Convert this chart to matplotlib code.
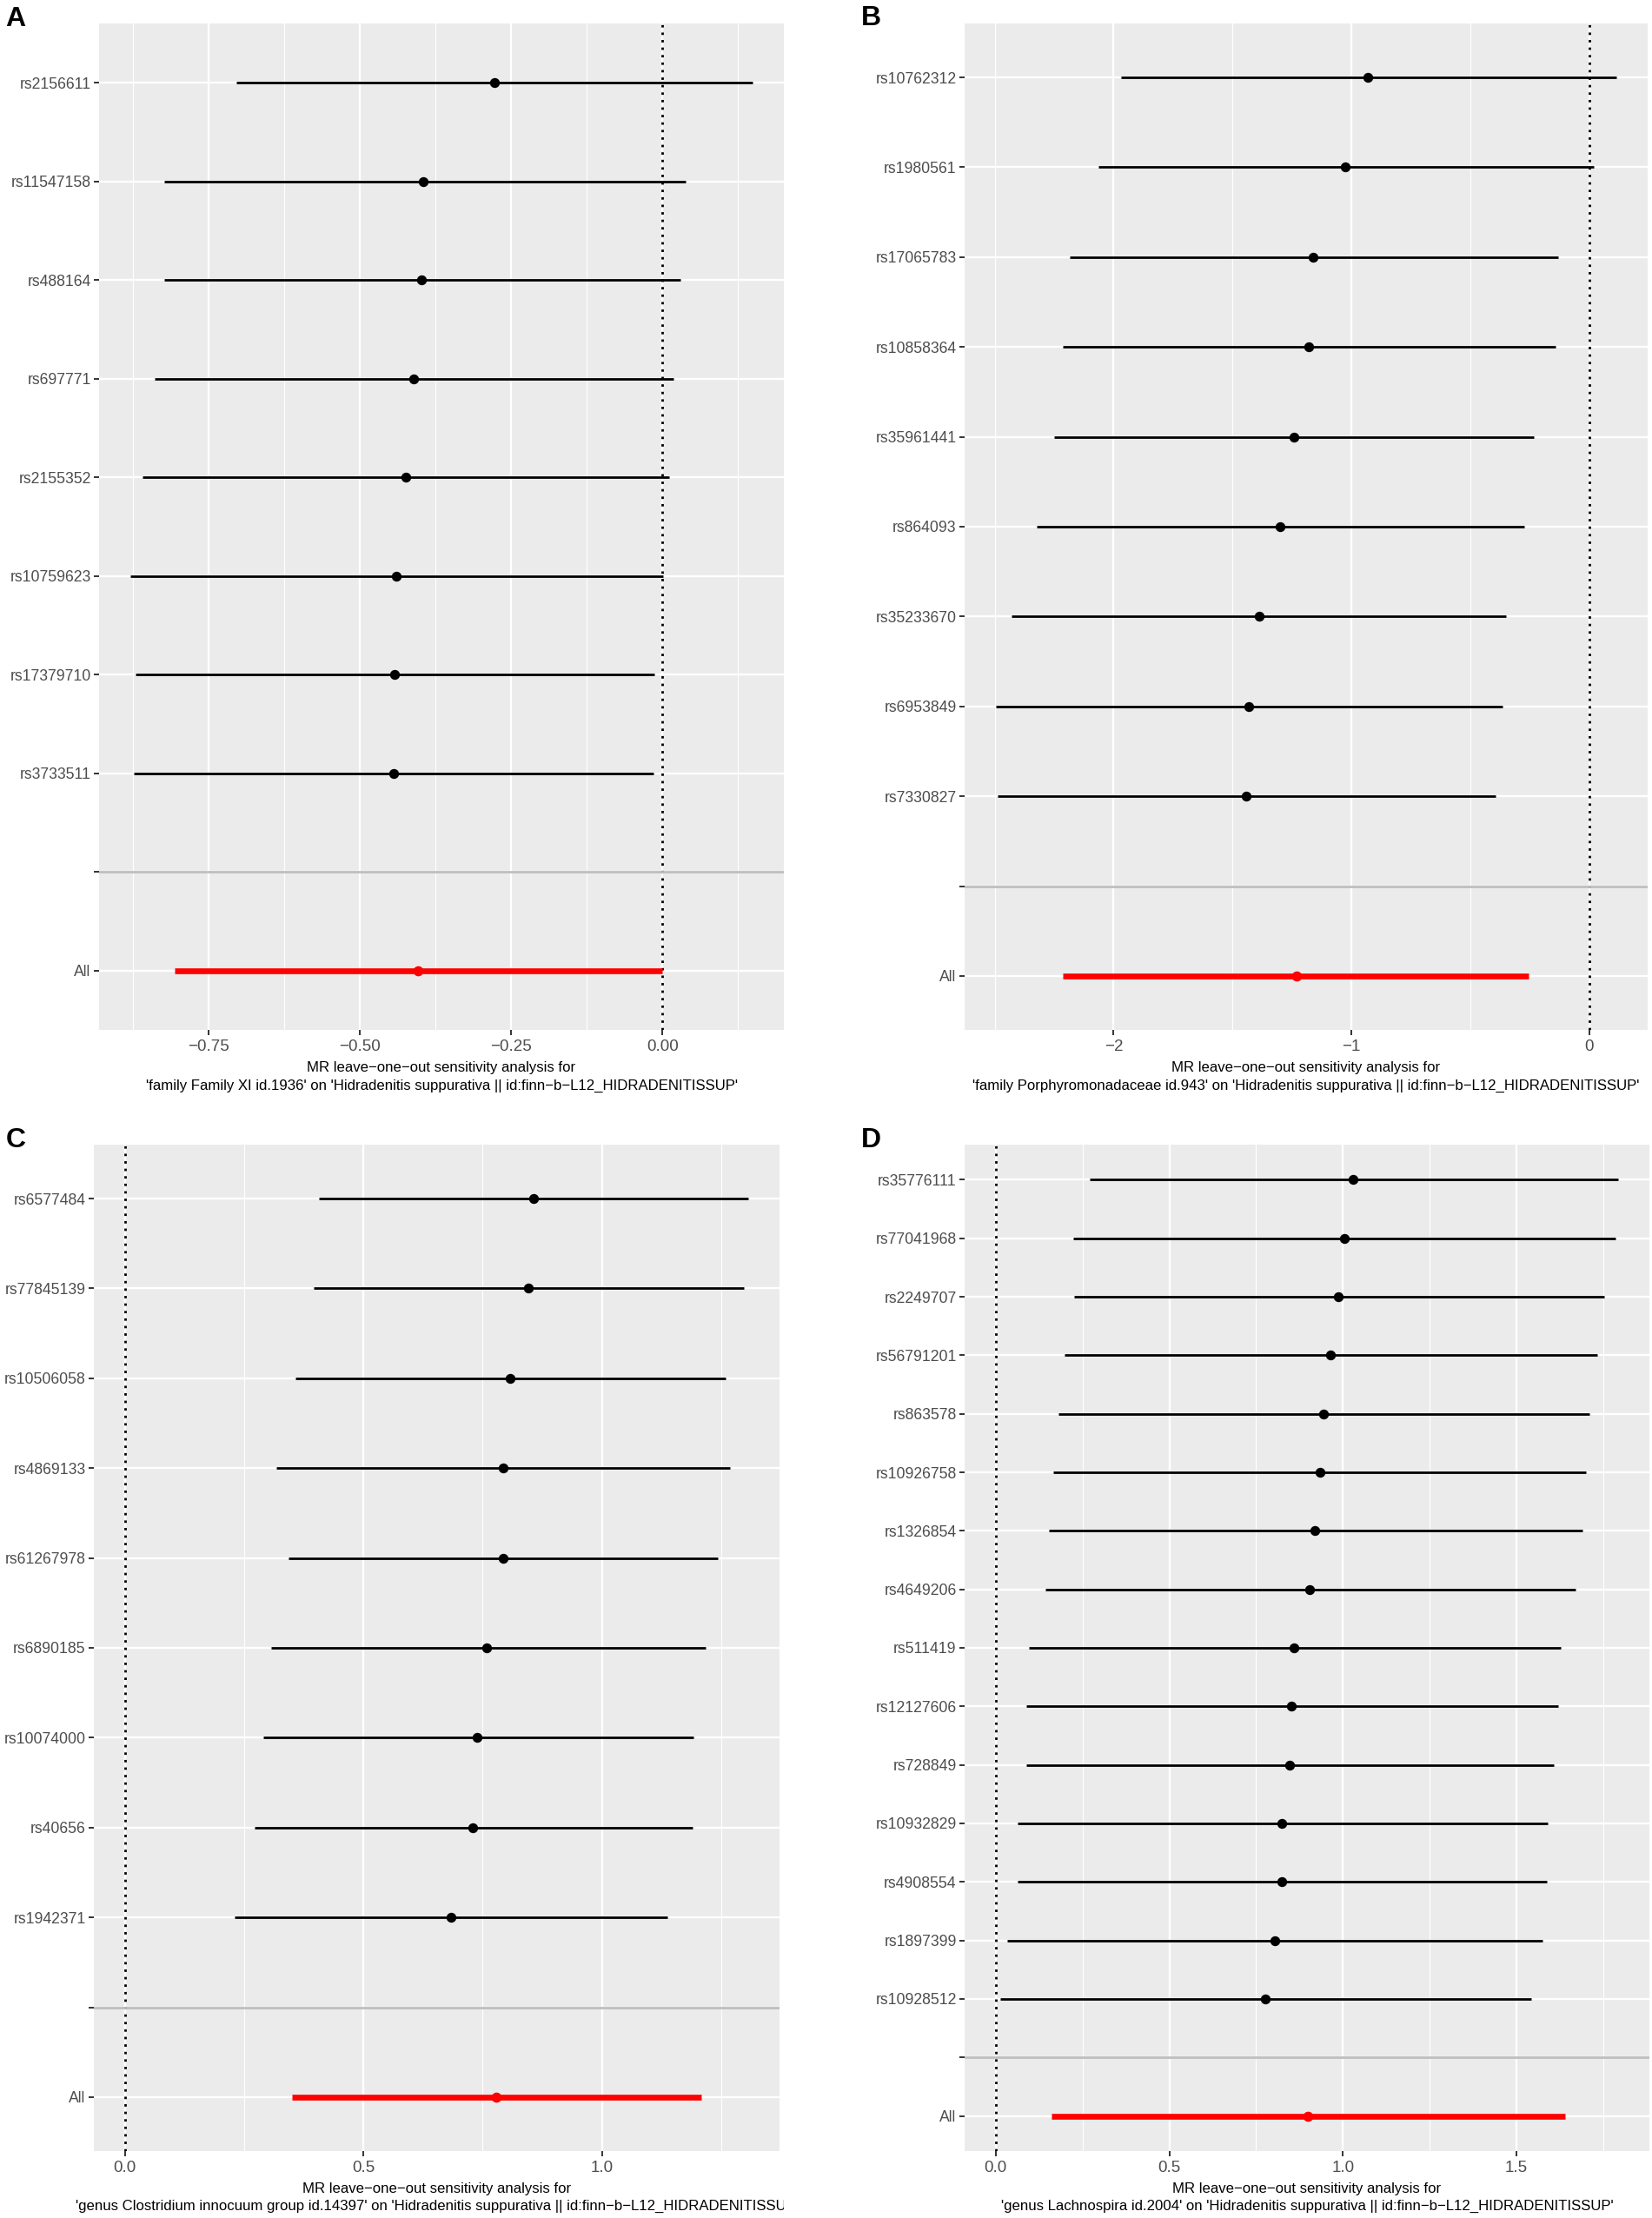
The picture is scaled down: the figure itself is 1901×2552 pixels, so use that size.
import matplotlib
matplotlib.use("Agg")
import matplotlib.pyplot as plt
from matplotlib.transforms import Bbox, TransformedBbox
import numpy as np

plt.rcParams['font.family'] = ['Liberation Sans', 'DejaVu Sans']
plt.rcParams['axes.unicode_minus'] = True

# ---------------- data ----------------
# Panel A
a_snps = ["rs2156611", "rs11547158", "rs488164", "rs697771", "rs2155352",
          "rs10759623", "rs17379710", "rs3733511"]
a_b  = [-0.278, -0.395, -0.398, -0.411, -0.425, -0.440, -0.443, -0.445]
a_lo = [-0.704, -0.824, -0.824, -0.840, -0.860, -0.880, -0.871, -0.874]
a_up = [0.149, 0.038, 0.029, 0.018, 0.011, 0.001, -0.014, -0.015]
a_all = (-0.807, -0.404, 0.000)   # lo, b, up
a_xticks = [-0.75, -0.50, -0.25, 0.00]
a_xticklabels = ["\u22120.75", "\u22120.50", "\u22120.25", "0.00"]
a_title = ("MR leave\u2212one\u2212out sensitivity analysis for",
           "'family Family XI id.1936' on 'Hidradenitis suppurativa || id:finn\u2212b\u2212L12_HIDRADENITISSUP'")

# Panel B
b_snps = ["rs10762312", "rs1980561", "rs17065783", "rs10858364", "rs35961441",
          "rs864093", "rs35233670", "rs6953849", "rs7330827"]
b_b  = [-0.929, -1.025, -1.160, -1.178, -1.240, -1.300, -1.389, -1.431, -1.443]
b_lo = [-1.969, -2.065, -2.185, -2.214, -2.249, -2.325, -2.429, -2.496, -2.487]
b_up = [0.116, 0.020, -0.131, -0.140, -0.231, -0.271, -0.349, -0.365, -0.393]
b_all = (-2.212, -1.231, -0.255)
b_xticks = [-2, -1, 0]
b_xticklabels = ["\u22122", "\u22121", "0"]
b_title = ("MR leave\u2212one\u2212out sensitivity analysis for",
           "'family Porphyromonadaceae id.943' on 'Hidradenitis suppurativa || id:finn\u2212b\u2212L12_HIDRADENITISSUP'")

# Panel C
c_snps = ["rs6577484", "rs77845139", "rs10506058", "rs4869133", "rs61267978",
          "rs6890185", "rs10074000", "rs40656", "rs1942371"]
c_b  = [0.856, 0.845, 0.807, 0.793, 0.792, 0.759, 0.739, 0.729, 0.683]
c_lo = [0.406, 0.395, 0.357, 0.318, 0.342, 0.306, 0.290, 0.271, 0.230]
c_up = [1.307, 1.297, 1.260, 1.269, 1.243, 1.217, 1.192, 1.190, 1.138]
c_all = (0.350, 0.778, 1.209)
c_xticks = [0.0, 0.5, 1.0]
c_xticklabels = ["0.0", "0.5", "1.0"]
c_title = ("MR leave\u2212one\u2212out sensitivity analysis for",
           "'genus Clostridium innocuum group id.14397' on 'Hidradenitis suppurativa || id:finn\u2212b\u2212L12_HIDRADENITISSUP'")

# Panel D
d_snps = ["rs35776111", "rs77041968", "rs2249707", "rs56791201", "rs863578",
          "rs10926758", "rs1326854", "rs4649206", "rs511419", "rs12127606",
          "rs728849", "rs10932829", "rs4908554", "rs1897399", "rs10928512"]
d_b  = [1.030, 1.003, 0.986, 0.963, 0.945, 0.933, 0.919, 0.905, 0.858, 0.852,
        0.846, 0.825, 0.825, 0.803, 0.777]
d_lo = [0.271, 0.224, 0.226, 0.197, 0.181, 0.166, 0.152, 0.143, 0.095, 0.087,
        0.087, 0.063, 0.064, 0.034, 0.014]
d_up = [1.793, 1.784, 1.752, 1.733, 1.710, 1.701, 1.689, 1.671, 1.627, 1.620,
        1.608, 1.590, 1.587, 1.575, 1.543]
d_all = (0.160, 0.898, 1.639)
d_xticks = [0.0, 0.5, 1.0, 1.5]
d_xticklabels = ["0.0", "0.5", "1.0", "1.5"]
d_title = ("MR leave\u2212one\u2212out sensitivity analysis for",
           "'genus Lachnospira id.2004' on 'Hidradenitis suppurativa || id:finn\u2212b\u2212L12_HIDRADENITISSUP'")

# ---------------- layout ----------------
W, H = 1901, 2552
DPI = 100
fig = plt.figure(figsize=(W / DPI, H / DPI), dpi=DPI)

def px_axes(l, r, t, b):
    return fig.add_axes([l / W, 1 - b / H, (r - l) / W, (b - t) / H])

BG = "#EBEBEB"
TICKC = "#333333"
LABC = "#4D4D4D"
TITLE_FS = 12.1


def panel(ax, snps, bb, lo, up, allv, xticks, xticklabels, title, ty, clip_right=None):
    cats = list(snps) + ["", "All"]
    n = len(cats)
    ypos = np.arange(n)
    # ggplot-like x limits: data incl. 0 with 5% expansion
    xmin = min(min(lo), allv[0], 0.0)
    xmax = max(max(up), allv[2], 0.0)
    pad = 0.05 * (xmax - xmin)
    ax.set_ylim(n - 1 + 0.6, -0.6)

    ax.set_facecolor(BG)
    for s in ax.spines.values():
        s.set_visible(False)
    ax.set_axisbelow(True)

    ax.set_xticks(xticks)
    ax.set_xticklabels(xticklabels)
    step = xticks[1] - xticks[0]
    minors = np.arange(xticks[0] - step / 2, xticks[-1] + step, step)
    ax.set_xticks(minors, minor=True)
    ax.set_yticks(ypos)
    ax.set_yticklabels(cats)
    ax.set_xlim(xmin - pad, xmax + pad)

    ax.grid(True, which="major", color="white", lw=1.7)
    ax.grid(True, which="minor", axis="x", color="white", lw=0.85)
    ax.tick_params(axis="both", which="major", color=TICKC, length=4.2, width=1.4,
                   labelcolor=LABC, pad=2.5)
    ax.tick_params(axis="y", labelsize=12.7)
    ax.tick_params(axis="x", labelsize=13.5, pad=3.5)
    ax.tick_params(which="minor", length=0)

    ax.axvline(0, color="black", lw=2.0, linestyle=(0, (1, 2.1)), zorder=2)
    ys = ypos[:len(snps)]
    ax.hlines(ys, lo, up, color="black", lw=2.0, zorder=3)
    ax.plot(bb, ys, "o", color="black", ms=7.2, zorder=4)
    ay = ypos[-1]
    ax.hlines([ay], [allv[0]], [allv[2]], color="#FF0000", lw=4.8, zorder=3)
    ax.plot([allv[1]], [ay], "o", color="#FF0000", ms=7.4, zorder=4)
    ax.axhline(ypos[-2], color="#BEBEBE", lw=2.0, zorder=5)

    # x axis title (two lines), centred on the panel
    pos = ax.get_position()
    cx = (pos.x0 + pos.x1) / 2
    fig.text(cx, 1 - ty[0] / H, title[0], ha="center", va="center",
             fontsize=TITLE_FS, color="black")
    t2 = fig.text(cx, 1 - ty[1] / H, title[1], ha="center", va="center",
                  fontsize=TITLE_FS, color="black")
    if clip_right is not None:
        bbox = TransformedBbox(Bbox([[0, 0], [clip_right / W, 1]]), fig.transFigure)
        t2.set_clip_box(bbox)
        t2.set_clip_on(True)


axA = px_axes(114, 902, 27, 1185)
axB = px_axes(1110, 1896, 27, 1185)
axC = px_axes(108, 897, 1317, 2475)
axD = px_axes(1110, 1898, 1317, 2475)

panel(axA, a_snps, a_b, a_lo, a_up, a_all, a_xticks, a_xticklabels, a_title, (1229, 1249))
panel(axB, b_snps, b_b, b_lo, b_up, b_all, b_xticks, b_xticklabels, b_title, (1229, 1249))
panel(axC, c_snps, c_b, c_lo, c_up, c_all, c_xticks, c_xticklabels, c_title, (2519, 2538),
      clip_right=902)
panel(axD, d_snps, d_b, d_lo, d_up, d_all, d_xticks, d_xticklabels, d_title, (2519, 2538))

# panel letters
for letter, x, yb in [("A", 6, 30), ("B", 991, 29), ("C", 7, 1320), ("D", 991, 1320)]:
    fig.text(x / W, 1 - yb / H, letter, ha="left", va="baseline",
             fontsize=23, fontweight="bold", color="black")

fig.savefig("out.png", dpi=DPI, facecolor="white")
